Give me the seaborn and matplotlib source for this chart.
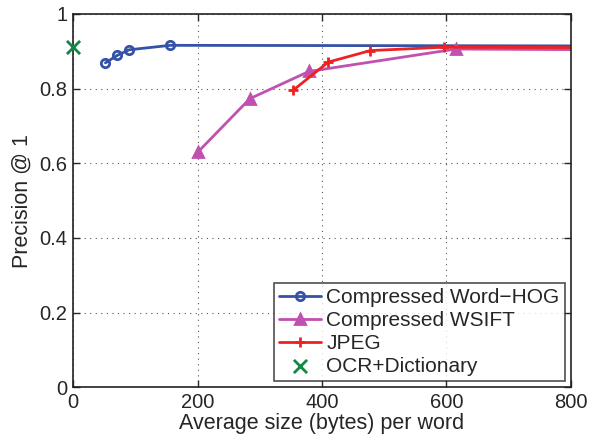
import matplotlib
matplotlib.use("Agg")
import matplotlib.pyplot as plt
import seaborn as sns
import pandas as pd

# values
hog_size = [52, 71, 90, 156, 1000]
hog_prec = [0.869, 0.889, 0.904, 0.916, 0.914]

wsift_size = [200, 284, 379, 615, 1000]
wsift_prec = [0.629, 0.773, 0.846, 0.906, 0.903]

jpeg_size = [354, 410, 478, 596, 1000]
jpeg_prec = [0.796, 0.871, 0.902, 0.911, 0.909]

ocr_size = [0]
ocr_prec = [0.911]

sns.set_style("ticks")
plt.rcParams['font.family'] = ['Liberation Sans', 'DejaVu Sans']

fig = plt.figure(figsize=(5.99, 4.37), dpi=100)
ax = fig.add_axes([0.122, 0.114, 0.831, 0.854])

series = [
    ("Compressed Word\u2212HOG", hog_size, hog_prec, "#3552a6", "o", 6, "none"),
    ("Compressed WSIFT", wsift_size, wsift_prec, "#c051b0", "^", 6.5, None),
    ("JPEG", jpeg_size, jpeg_prec, "#ee2222", "+", 7, None),
]
for name, xs, ys, col, mk, ms, mfc in series:
    df = pd.DataFrame({"size": xs, "prec": ys})
    sns.lineplot(data=df, x="size", y="prec", ax=ax, color=col, lw=2,
                 marker=mk, markersize=ms, markeredgewidth=2,
                 markerfacecolor=(mfc if mfc else col),
                 markeredgecolor=col, label=name, sort=False)

ocr = pd.DataFrame({"size": ocr_size, "prec": ocr_prec})
sns.scatterplot(data=ocr, x="size", y="prec", ax=ax, marker="x", s=90,
                color="#118844", linewidth=2, label="OCR+Dictionary",
                clip_on=False, zorder=5)

ax.set_xlim(0, 800)
ax.set_ylim(0, 1)
ax.set_xticks([0, 200, 400, 600, 800])
ax.set_yticks([0, 0.2, 0.4, 0.6, 0.8, 1])
ax.set_yticklabels(["0", "0.2", "0.4", "0.6", "0.8", "1"])
ax.tick_params(direction="in", top=True, right=True, labelsize=14.5,
               length=5, width=1, pad=4)
ax.grid(True, linestyle=(0, (1, 4)), color="#555555", lw=0.8)
for s in ax.spines.values():
    s.set_visible(True)
    s.set_linewidth(1.2)
    s.set_color("#222222")

ax.set_xlabel("Average size (bytes) per word", fontsize=15.5, labelpad=1)
ax.set_ylabel("Precision @ 1", fontsize=15.5, labelpad=5)

leg = ax.legend(loc="lower right", fontsize=15, frameon=True, fancybox=False,
                edgecolor="#222222", borderpad=0.25, labelspacing=0.18,
                handlelength=2.0, handletextpad=0.25, borderaxespad=0.3)
leg.get_frame().set_linewidth(1.2)

fig.savefig("out.png", dpi=100)
